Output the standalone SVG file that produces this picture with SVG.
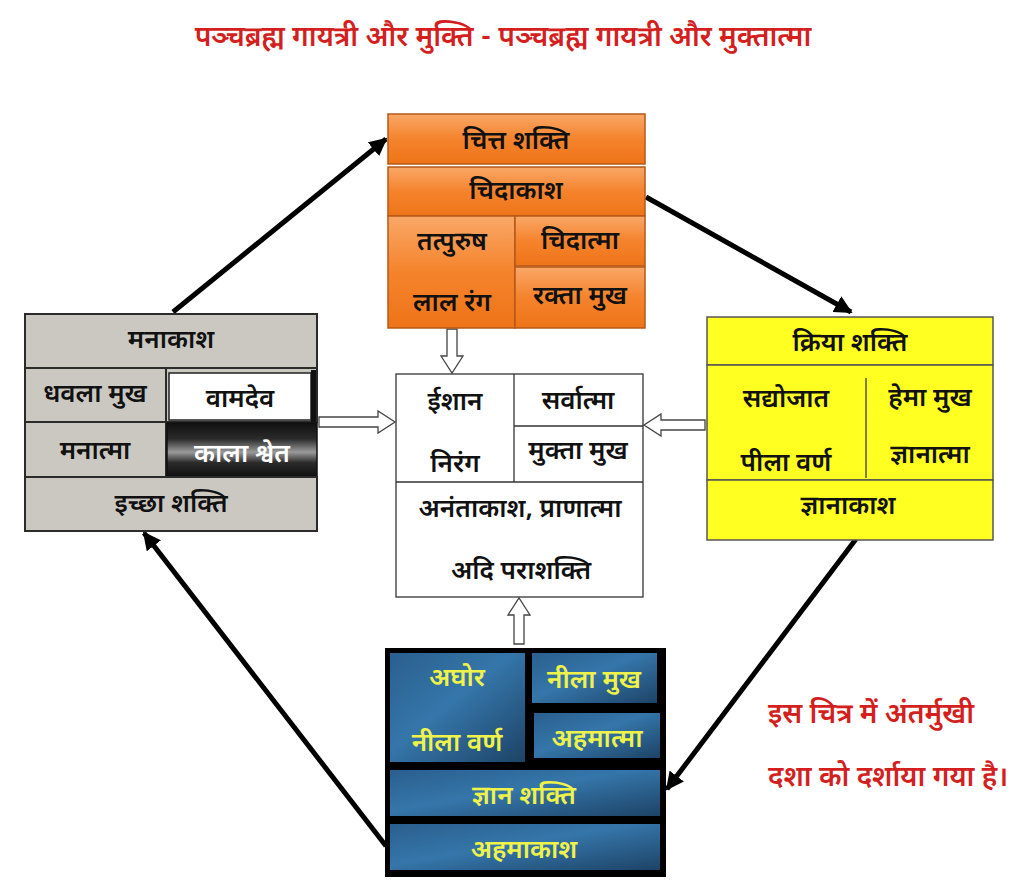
<svg xmlns="http://www.w3.org/2000/svg" width="1024" height="893" viewBox="0 0 1024 893">
<defs>
<linearGradient id="og" x1="0" y1="0" x2="0" y2="1">
<stop offset="0" stop-color="#f9a868"/><stop offset="0.5" stop-color="#f5832c"/><stop offset="1" stop-color="#ee7418"/>
</linearGradient>
<linearGradient id="bg" x1="0" y1="0" x2="1" y2="1">
<stop offset="0" stop-color="#2a5f8e"/><stop offset="0.45" stop-color="#3576aa"/><stop offset="1" stop-color="#1d4366"/>
</linearGradient>
<linearGradient id="kg" x1="0" y1="0" x2="0" y2="1">
<stop offset="0" stop-color="#111"/><stop offset="0.3" stop-color="#2a2a2a"/><stop offset="0.55" stop-color="#9a9a9a"/><stop offset="0.75" stop-color="#2a2a2a"/><stop offset="1" stop-color="#111"/>
</linearGradient>
<marker id="ah" viewBox="0 0 10 10" refX="9" refY="5" markerWidth="3.6" markerHeight="3.6" orient="auto" markerUnits="strokeWidth">
<path d="M0,0 L10,5 L0,10 Z" fill="#000"/>
</marker>
</defs>
<style>
text{font-family:"Noto Sans Devanagari","Noto Sans","Lohit Devanagari","FreeSans",sans-serif;font-size:26px;font-weight:600;text-anchor:middle;fill:#111}
.t{fill:#d41f1f;font-size:28px}
.r{fill:#d41f1f;font-size:28px;text-anchor:start}
.y{fill:#eef24a}
.w{fill:#fff}
.oc{fill:url(#og);stroke:#b75818;stroke-width:1.5}
.gc{fill:#cbc8c2;stroke:#2b2b2b;stroke-width:2}
.yc{fill:#ffff22;stroke:#555;stroke-width:1.5}
.bc{fill:url(#bg)}
.con{stroke:#000;stroke-width:5;fill:none;marker-end:url(#ah)}
.ha{fill:#fff;stroke:#444;stroke-width:1.3}
</style>
<rect width="1024" height="893" fill="#fff"/>
<text class="t" x="503" y="46">पञ्चब्रह्म गायत्री और मुक्ति - पञ्चब्रह्म गायत्री और मुक्तात्मा</text>

<g id="connectors">
<line class="con" x1="173" y1="312" x2="386" y2="139"/>
<line class="con" x1="646" y1="197" x2="851" y2="312"/>
<line class="con" x1="856" y1="539" x2="667" y2="789"/>
<line class="con" x1="386" y1="846" x2="144" y2="533"/>
<path class="ha" d="M447,329 L457,329 L457,356 L463,356 L452,373 L441,356 L447,356 Z"/>
<path class="ha" d="M319,417 L378,417 L378,411 L395,422 L378,433 L378,427 L319,427 Z"/>
<path class="ha" d="M705,420 L661,420 L661,414 L644,425 L661,436 L661,430 L705,430 Z"/>
<path class="ha" d="M514,644 L524,644 L524,615 L530,615 L519,598 L508,615 L514,615 Z"/>
</g>

<g id="chitta">
<rect class="oc" x="388" y="114" width="257" height="50"/>
<rect class="oc" x="388" y="167" width="257" height="49"/>
<rect class="oc" x="388" y="216" width="127" height="112"/>
<rect class="oc" x="515" y="216" width="130" height="50"/>
<rect class="oc" x="515" y="267" width="130" height="61"/>
<text x="516" y="149">चित्त शक्ति</text>
<text x="516" y="199">चिदाकाश</text>
<text x="452" y="250">तत्पुरुष</text>
<text x="452" y="311">लाल रंग</text>
<text x="580" y="249">चिदात्मा</text>
<text x="580" y="304">रक्ता मुख</text>
</g>

<g id="mana">
<rect class="gc" x="25" y="314" width="292" height="54"/>
<rect class="gc" x="25" y="368" width="141" height="54"/>
<rect class="gc" x="166" y="368" width="151" height="54"/>
<rect x="169" y="373" width="142" height="47" fill="#fff" stroke="#222" stroke-width="1.5"/>
<rect x="311" y="370" width="5" height="52" fill="#111"/>
<rect class="gc" x="25" y="422" width="141" height="55"/>
<rect x="167" y="423" width="150" height="53" fill="url(#kg)" stroke="#111" stroke-width="1.5"/>
<rect class="gc" x="25" y="477" width="292" height="54"/>
<text x="171" y="348">मनाकाश</text>
<text x="95" y="402">धवला मुख</text>
<text x="240" y="407">वामदेव</text>
<text x="95" y="459">मनात्मा</text>
<text class="w" x="242" y="462">काला श्वेत</text>
<text x="171" y="512">इच्छा शक्ति</text>
</g>

<g id="ishana">
<rect x="396" y="374" width="247" height="223" fill="#fff" stroke="#333" stroke-width="1.3"/>
<line x1="514" y1="374" x2="514" y2="482" stroke="#333" stroke-width="1.3"/>
<line x1="514" y1="426" x2="643" y2="426" stroke="#333" stroke-width="1.3"/>
<line x1="396" y1="482" x2="643" y2="482" stroke="#333" stroke-width="1.3"/>
<text x="455" y="410">ईशान</text>
<text x="455" y="472">निरंग</text>
<text x="578" y="409">सर्वात्मा</text>
<text x="578" y="459">मुक्ता मुख</text>
<text x="520" y="517">अनंताकाश,  प्राणात्मा</text>
<text x="521" y="579">अदि पराशक्ति</text>
</g>

<g id="kriya">
<rect class="yc" x="707" y="317" width="286" height="48"/>
<rect class="yc" x="707" y="365" width="286" height="115"/>
<rect class="yc" x="707" y="480" width="286" height="60"/>
<line x1="866" y1="378" x2="866" y2="478" stroke="#555" stroke-width="1.5"/>
<text x="850" y="351">क्रिया शक्ति</text>
<text x="786" y="407">सद्योजात</text>
<text x="786" y="471">पीला वर्ण</text>
<text x="930" y="406">हेमा मुख</text>
<text x="930" y="463">ज्ञानात्मा</text>
<text x="848" y="514">ज्ञानाकाश</text>
</g>

<g id="aghora">
<rect x="385" y="648" width="281" height="229" fill="#000"/>
<rect class="bc" x="390" y="653" width="135" height="109"/>
<rect class="bc" x="532" y="653" width="125" height="50"/>
<rect class="bc" x="534" y="713" width="126" height="45"/>
<rect class="bc" x="390" y="770" width="270" height="46"/>
<rect class="bc" x="390" y="824" width="270" height="46"/>
<text class="y" x="457" y="686">अघोर</text>
<text class="y" x="457" y="751">नीला वर्ण</text>
<text class="y" x="594" y="688">नीला मुख</text>
<text class="y" x="597" y="747">अहमात्मा</text>
<text class="y" x="524" y="804">ज्ञान शक्ति</text>
<text class="y" x="524" y="858">अहमाकाश</text>
</g>

<text class="r" x="768" y="723">इस चित्र में अंतर्मुखी</text>
<text class="r" x="768" y="786">दशा को दर्शाया गया है।</text>
</svg>
